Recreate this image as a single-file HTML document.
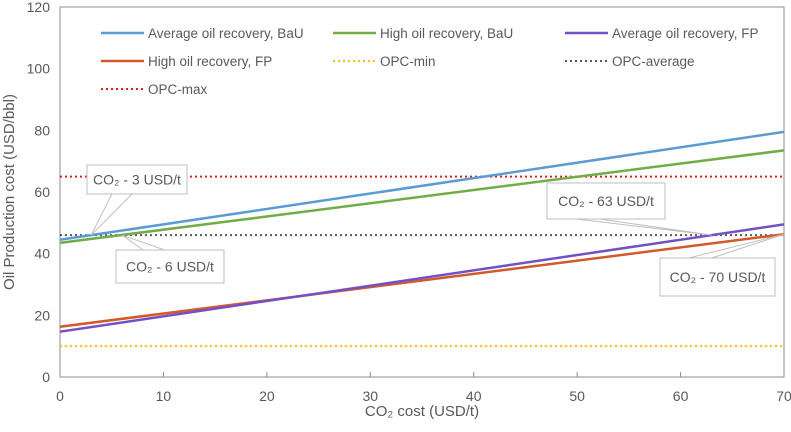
<!DOCTYPE html>
<html><head><meta charset="utf-8"><style>
body{margin:0;background:#fff;}
svg text{font-family:"Liberation Sans",sans-serif;fill:#595959;}
</style></head><body>
<svg width="791" height="427" viewBox="0 0 791 427">
<g id="plot"></g>
</svg>
<script>
const xTicks=[0,10,20,30,40,50,60,70];
const yTicks=[0,20,40,60,80,100,120];
const seriesNames=["Average oil recovery, BaU","High oil recovery, BaU","Average oil recovery, FP","High oil recovery, FP","OPC-min","OPC-average","OPC-max"];
const seriesColors=["#5b9bd5","#70ad47","#7251c6","#d4582a","#ffc000","#595959","#e02020"];
const seriesDashed=[false,false,false,false,true,true,true];
const xVals=[0,70];
const avgBaU=[44.5,79.5];
const highBaU=[43.5,73.5];
const avgFP=[14.7,49.5];
const highFP=[16.3,46.3];
const opcMin=[10,10];
const opcAvg=[46,46];
const opcMax=[65,65];
const allSeries=[avgBaU,highBaU,avgFP,highFP,opcMin,opcAvg,opcMax];
const calloutX=[3,6,63,70];
const calloutLabels=["3","6","63","70"];

const X0=60,X1=784,Y0=377,Y1=7;
const xs=v=>X0+(v-0)/70*(X1-X0);
const ys=v=>Y0-(v-0)/120*(Y0-Y1);
const NS="http://www.w3.org/2000/svg";
const g=document.getElementById('plot');
function mk(t,a,p){const e=document.createElementNS(NS,t);for(const k in a)e.setAttribute(k,a[k]);(p||g).appendChild(e);return e;}

const frame=mk('rect',{x:X0,y:Y1,width:X1-X0,height:Y0-Y1,fill:'none',stroke:'#8c8c8c','stroke-width':1});


xTicks.forEach(v=>{
  const t=mk('line',{x1:xs(v),x2:xs(v),y1:Y0,y2:Y0-5,stroke:'#8c8c8c'});
  
  
  const l=mk('text',{x:xs(v),y:Y0+24,'text-anchor':'middle','font-size':14});
  l.textContent=v;
  
  
});
yTicks.forEach(v=>{
  const l=mk('text',{x:X0-10,y:ys(v)+5,'text-anchor':'end','font-size':14});
  l.textContent=v;
  
  
});
const xt=mk('text',{x:(X0+X1)/2,y:416,'text-anchor':'middle','font-size':15});
xt.textContent="CO₂ cost (USD/t)";


const yt=mk('text',{x:0,y:0,'text-anchor':'middle','font-size':15,transform:`translate(14,${(Y0+Y1)/2}) rotate(-90)`});
yt.textContent="Oil Production cost (USD/bbl)";



const order=[4,5,6,3,2,1,0];
order.forEach(i=>{
  const d=allSeries[i];
  const a={x1:xs(xVals[0]),y1:ys(d[0]),x2:xs(xVals[1]),y2:ys(d[1]),stroke:seriesColors[i],'stroke-width':seriesDashed[i]?2:2.5};
  if(seriesDashed[i])a['stroke-dasharray']='2,3';
  const l=mk('line',a);
  
  
});

const legX=[101,333,565],legY=[33,61,89];
seriesNames.forEach((n,i)=>{
  const cx=legX[i%3],cy=legY[Math.floor(i/3)];
  const grp=mk('g',{});
  
  
  const a={x1:cx,x2:cx+43,y1:cy,y2:cy,stroke:seriesColors[i],'stroke-width':seriesDashed[i]?2:2.5};
  if(seriesDashed[i])a['stroke-dasharray']='2,3';
  mk('line',a,grp);
  const t=mk('text',{x:cx+47,y:cy+5,'font-size':13.5},grp);t.textContent=n;
});

const boxes=[[87,165,100,29],[116,250,108,33],[547,183,118,36],[660,258,115,38]];
const ptY=[opcAvg[0],opcAvg[0],opcAvg[0],highFP[1]];
calloutX.forEach((v,i)=>{
  const [bx,by,bw,bh]=boxes[i];
  const grp=mk('g',{});
  
  
  const px=xs(v),py=ys(ptY[i]);
  const up=py<by;
  const ey=up?by:by+bh;
  mk('polygon',{points:`${bx+bw*0.25},${ey} ${px},${py} ${bx+bw*0.45},${ey}`,fill:'#fff',stroke:'#bfbfbf'},grp);
  mk('rect',{x:bx,y:by,width:bw,height:bh,fill:'#fff',stroke:'#bfbfbf'},grp);
  const t=mk('text',{x:bx+bw/2,y:by+bh/2+5,'text-anchor':'middle','font-size':14},grp);
  t.textContent="CO₂ - "+calloutLabels[i]+" USD/t";
});
</script>
</body></html>
